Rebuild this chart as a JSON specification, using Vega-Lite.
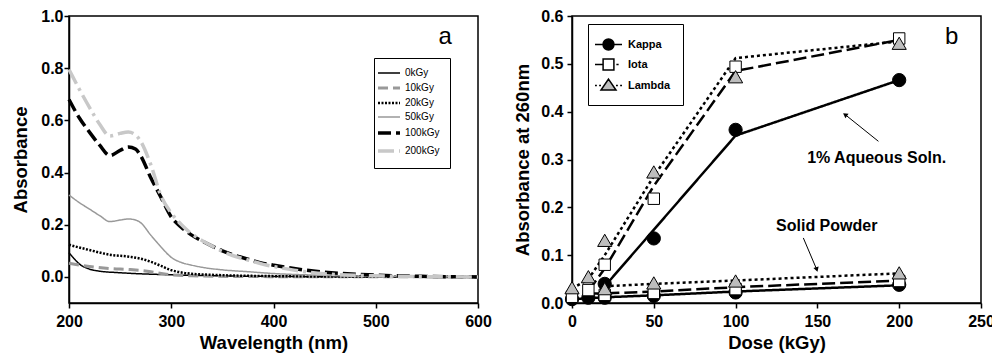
{
  "$schema": "https://vega.github.io/schema/vega-lite/v6.json",
  "background": "white",
  "padding": {"left": 11, "top": 7, "right": 0, "bottom": 0},
  "spacing": 20,
  "resolve": {
    "scale": {"color": "independent", "strokeDash": "independent"},
    "legend": {"color": "independent", "strokeDash": "independent"}
  },
  "config": {
    "font": "Liberation Sans",
    "view": {"stroke": "black", "strokeWidth": 1.5},
    "axis": {
      "grid": false, "labelFlush": false,
      "labelFont": "Liberation Sans", "labelFontWeight": "bold", "labelFontSize": 16, "labelColor": "black",
      "titleFont": "Liberation Sans", "titleFontWeight": "bold", "titleFontSize": 18.5, "titleColor": "black",
      "domainColor": "black", "domainWidth": 1.5, "tickColor": "black", "tickWidth": 1.5, "tickSize": 5
    },
    "axisX": {"labelPadding": 5, "titlePadding": 4},
    "axisY": {"labelPadding": 1, "titlePadding": 10}
  },
  "datasets": {
    "spectra": [
      {"dose": "0kGy", "wl": 200, "A": 0.093}, {"dose": "0kGy", "wl": 205, "A": 0.07}, {"dose": "0kGy", "wl": 210, "A": 0.05}, {"dose": "0kGy", "wl": 220, "A": 0.03}, {"dose": "0kGy", "wl": 230, "A": 0.022}, {"dose": "0kGy", "wl": 250, "A": 0.016}, {"dose": "0kGy", "wl": 300, "A": 0.008}, {"dose": "0kGy", "wl": 350, "A": 0.004}, {"dose": "0kGy", "wl": 400, "A": 0.002}, {"dose": "0kGy", "wl": 500, "A": 0.0}, {"dose": "0kGy", "wl": 600, "A": 0.0},
      {"dose": "10kGy", "wl": 200, "A": 0.052}, {"dose": "10kGy", "wl": 220, "A": 0.04}, {"dose": "10kGy", "wl": 240, "A": 0.032}, {"dose": "10kGy", "wl": 260, "A": 0.028}, {"dose": "10kGy", "wl": 280, "A": 0.02}, {"dose": "10kGy", "wl": 295, "A": 0.01}, {"dose": "10kGy", "wl": 320, "A": 0.004}, {"dose": "10kGy", "wl": 400, "A": 0.001}, {"dose": "10kGy", "wl": 600, "A": 0.0},
      {"dose": "20kGy", "wl": 200, "A": 0.123}, {"dose": "20kGy", "wl": 220, "A": 0.103}, {"dose": "20kGy", "wl": 240, "A": 0.085}, {"dose": "20kGy", "wl": 260, "A": 0.077}, {"dose": "20kGy", "wl": 270, "A": 0.07}, {"dose": "20kGy", "wl": 280, "A": 0.058}, {"dose": "20kGy", "wl": 290, "A": 0.042}, {"dose": "20kGy", "wl": 300, "A": 0.026}, {"dose": "20kGy", "wl": 310, "A": 0.017}, {"dose": "20kGy", "wl": 320, "A": 0.012}, {"dose": "20kGy", "wl": 340, "A": 0.008}, {"dose": "20kGy", "wl": 400, "A": 0.003}, {"dose": "20kGy", "wl": 500, "A": 0.001}, {"dose": "20kGy", "wl": 600, "A": 0.0},
      {"dose": "50kGy", "wl": 200, "A": 0.314}, {"dose": "50kGy", "wl": 210, "A": 0.285}, {"dose": "50kGy", "wl": 220, "A": 0.26}, {"dose": "50kGy", "wl": 230, "A": 0.235}, {"dose": "50kGy", "wl": 240, "A": 0.212}, {"dose": "50kGy", "wl": 250, "A": 0.218}, {"dose": "50kGy", "wl": 258, "A": 0.222}, {"dose": "50kGy", "wl": 265, "A": 0.218}, {"dose": "50kGy", "wl": 270, "A": 0.208}, {"dose": "50kGy", "wl": 280, "A": 0.16}, {"dose": "50kGy", "wl": 290, "A": 0.115}, {"dose": "50kGy", "wl": 300, "A": 0.075}, {"dose": "50kGy", "wl": 310, "A": 0.055}, {"dose": "50kGy", "wl": 320, "A": 0.045}, {"dose": "50kGy", "wl": 330, "A": 0.037}, {"dose": "50kGy", "wl": 350, "A": 0.027}, {"dose": "50kGy", "wl": 375, "A": 0.02}, {"dose": "50kGy", "wl": 400, "A": 0.013}, {"dose": "50kGy", "wl": 450, "A": 0.006}, {"dose": "50kGy", "wl": 500, "A": 0.002}, {"dose": "50kGy", "wl": 600, "A": 0.0},
      {"dose": "100kGy", "wl": 200, "A": 0.68}, {"dose": "100kGy", "wl": 210, "A": 0.61}, {"dose": "100kGy", "wl": 220, "A": 0.555}, {"dose": "100kGy", "wl": 230, "A": 0.505}, {"dose": "100kGy", "wl": 240, "A": 0.465}, {"dose": "100kGy", "wl": 250, "A": 0.485}, {"dose": "100kGy", "wl": 258, "A": 0.498}, {"dose": "100kGy", "wl": 265, "A": 0.49}, {"dose": "100kGy", "wl": 270, "A": 0.465}, {"dose": "100kGy", "wl": 280, "A": 0.38}, {"dose": "100kGy", "wl": 290, "A": 0.305}, {"dose": "100kGy", "wl": 300, "A": 0.23}, {"dose": "100kGy", "wl": 310, "A": 0.19}, {"dose": "100kGy", "wl": 320, "A": 0.16}, {"dose": "100kGy", "wl": 330, "A": 0.138}, {"dose": "100kGy", "wl": 340, "A": 0.118}, {"dose": "100kGy", "wl": 350, "A": 0.1}, {"dose": "100kGy", "wl": 360, "A": 0.085}, {"dose": "100kGy", "wl": 375, "A": 0.068}, {"dose": "100kGy", "wl": 390, "A": 0.052}, {"dose": "100kGy", "wl": 400, "A": 0.045}, {"dose": "100kGy", "wl": 420, "A": 0.032}, {"dose": "100kGy", "wl": 450, "A": 0.018}, {"dose": "100kGy", "wl": 500, "A": 0.007}, {"dose": "100kGy", "wl": 550, "A": 0.002}, {"dose": "100kGy", "wl": 600, "A": 0.0},
      {"dose": "200kGy", "wl": 200, "A": 0.795}, {"dose": "200kGy", "wl": 210, "A": 0.72}, {"dose": "200kGy", "wl": 220, "A": 0.65}, {"dose": "200kGy", "wl": 230, "A": 0.585}, {"dose": "200kGy", "wl": 240, "A": 0.54}, {"dose": "200kGy", "wl": 250, "A": 0.55}, {"dose": "200kGy", "wl": 258, "A": 0.555}, {"dose": "200kGy", "wl": 265, "A": 0.545}, {"dose": "200kGy", "wl": 270, "A": 0.52}, {"dose": "200kGy", "wl": 280, "A": 0.43}, {"dose": "200kGy", "wl": 290, "A": 0.31}, {"dose": "200kGy", "wl": 300, "A": 0.245}, {"dose": "200kGy", "wl": 310, "A": 0.2}, {"dose": "200kGy", "wl": 320, "A": 0.165}, {"dose": "200kGy", "wl": 330, "A": 0.14}, {"dose": "200kGy", "wl": 340, "A": 0.118}, {"dose": "200kGy", "wl": 350, "A": 0.098}, {"dose": "200kGy", "wl": 360, "A": 0.082}, {"dose": "200kGy", "wl": 375, "A": 0.065}, {"dose": "200kGy", "wl": 390, "A": 0.048}, {"dose": "200kGy", "wl": 400, "A": 0.04}, {"dose": "200kGy", "wl": 420, "A": 0.026}, {"dose": "200kGy", "wl": 450, "A": 0.012}, {"dose": "200kGy", "wl": 500, "A": 0.004}, {"dose": "200kGy", "wl": 550, "A": 0.001}, {"dose": "200kGy", "wl": 600, "A": 0.0}
    ],
    "leftLabels": [{"wl": 568, "A": 0.92, "text": "a"}],
    "lines": [
      {"state": "aqueous", "series": "Kappa", "dose": 20, "A": 0.035}, {"state": "aqueous", "series": "Kappa", "dose": 100, "A": 0.35}, {"state": "aqueous", "series": "Kappa", "dose": 200, "A": 0.466},
      {"state": "aqueous", "series": "Iota", "dose": 10, "A": 0.025}, {"state": "aqueous", "series": "Iota", "dose": 20, "A": 0.072}, {"state": "aqueous", "series": "Iota", "dose": 50, "A": 0.245}, {"state": "aqueous", "series": "Iota", "dose": 100, "A": 0.485}, {"state": "aqueous", "series": "Iota", "dose": 200, "A": 0.55},
      {"state": "aqueous", "series": "Lambda", "dose": 0, "A": 0.03}, {"state": "aqueous", "series": "Lambda", "dose": 10, "A": 0.05}, {"state": "aqueous", "series": "Lambda", "dose": 20, "A": 0.1}, {"state": "aqueous", "series": "Lambda", "dose": 50, "A": 0.265}, {"state": "aqueous", "series": "Lambda", "dose": 100, "A": 0.512}, {"state": "aqueous", "series": "Lambda", "dose": 200, "A": 0.547},
      {"state": "powder", "series": "Kappa", "dose": 0, "A": 0.008}, {"state": "powder", "series": "Kappa", "dose": 10, "A": 0.01}, {"state": "powder", "series": "Kappa", "dose": 20, "A": 0.012}, {"state": "powder", "series": "Kappa", "dose": 50, "A": 0.016}, {"state": "powder", "series": "Kappa", "dose": 100, "A": 0.024}, {"state": "powder", "series": "Kappa", "dose": 200, "A": 0.037},
      {"state": "powder", "series": "Iota", "dose": 10, "A": 0.02}, {"state": "powder", "series": "Iota", "dose": 20, "A": 0.02}, {"state": "powder", "series": "Iota", "dose": 50, "A": 0.024}, {"state": "powder", "series": "Iota", "dose": 100, "A": 0.033}, {"state": "powder", "series": "Iota", "dose": 200, "A": 0.047},
      {"state": "powder", "series": "Lambda", "dose": 20, "A": 0.035}, {"state": "powder", "series": "Lambda", "dose": 50, "A": 0.04}, {"state": "powder", "series": "Lambda", "dose": 100, "A": 0.047}, {"state": "powder", "series": "Lambda", "dose": 200, "A": 0.062}
    ],
    "pts": [
      {"state": "aqueous", "series": "Kappa", "dose": 0, "A": 0.008}, {"state": "aqueous", "series": "Kappa", "dose": 10, "A": 0.011}, {"state": "aqueous", "series": "Kappa", "dose": 20, "A": 0.04}, {"state": "aqueous", "series": "Kappa", "dose": 50, "A": 0.135}, {"state": "aqueous", "series": "Kappa", "dose": 100, "A": 0.362}, {"state": "aqueous", "series": "Kappa", "dose": 200, "A": 0.466},
      {"state": "powder", "series": "Kappa", "dose": 20, "A": 0.011}, {"state": "powder", "series": "Kappa", "dose": 50, "A": 0.015}, {"state": "powder", "series": "Kappa", "dose": 100, "A": 0.022}, {"state": "powder", "series": "Kappa", "dose": 200, "A": 0.038},
      {"state": "aqueous", "series": "Iota", "dose": 0, "A": 0.013}, {"state": "aqueous", "series": "Iota", "dose": 10, "A": 0.027}, {"state": "aqueous", "series": "Iota", "dose": 20, "A": 0.08}, {"state": "aqueous", "series": "Iota", "dose": 50, "A": 0.218}, {"state": "aqueous", "series": "Iota", "dose": 100, "A": 0.494}, {"state": "aqueous", "series": "Iota", "dose": 200, "A": 0.553},
      {"state": "powder", "series": "Iota", "dose": 20, "A": 0.017}, {"state": "powder", "series": "Iota", "dose": 50, "A": 0.021}, {"state": "powder", "series": "Iota", "dose": 100, "A": 0.029}, {"state": "powder", "series": "Iota", "dose": 200, "A": 0.046},
      {"state": "aqueous", "series": "Lambda", "dose": 0, "A": 0.032}, {"state": "aqueous", "series": "Lambda", "dose": 10, "A": 0.055}, {"state": "aqueous", "series": "Lambda", "dose": 20, "A": 0.131}, {"state": "aqueous", "series": "Lambda", "dose": 50, "A": 0.274}, {"state": "aqueous", "series": "Lambda", "dose": 100, "A": 0.473}, {"state": "aqueous", "series": "Lambda", "dose": 200, "A": 0.543},
      {"state": "powder", "series": "Lambda", "dose": 20, "A": 0.03}, {"state": "powder", "series": "Lambda", "dose": 50, "A": 0.042}, {"state": "powder", "series": "Lambda", "dose": 100, "A": 0.046}, {"state": "powder", "series": "Lambda", "dose": 200, "A": 0.063}
    ],
    "arrows": [
      {"name": "aq", "dose": 187.3, "A": 0.338, "dose2": 166.9, "A2": 0.394},
      {"name": "powder", "dose": 141.4, "A": 0.136, "dose2": 149.6, "A2": 0.07}
    ],
    "notes": [
      {"kind": "note", "dose": 186.2, "A": 0.303, "text": "1% Aqueous Soln."},
      {"kind": "note", "dose": 155.7, "A": 0.16, "text": "Solid Powder"},
      {"kind": "panel", "dose": 232, "A": 0.556, "text": "b"}
    ]
  },
  "hconcat": [
    {
      "width": 409,
      "height": 287,
      "layer": [
        {
          "data": {"name": "spectra"},
          "mark": {"type": "line", "interpolate": "monotone"},
          "encoding": {
            "x": {"field": "wl", "type": "quantitative", "scale": {"domain": [200, 600], "nice": false, "zero": false}, "axis": {"values": [200, 300, 400, 500, 600], "title": "Wavelength (nm)"}},
            "y": {"field": "A", "type": "quantitative", "scale": {"domain": [-0.1, 1.0], "nice": false}, "axis": {"values": [0, 0.2, 0.4, 0.6, 0.8, 1.0], "format": ".1f", "title": "Absorbance"}},
            "color": {
              "field": "dose", "type": "nominal",
              "scale": {"domain": ["0kGy", "10kGy", "20kGy", "50kGy", "100kGy", "200kGy"], "range": ["black", "#999999", "black", "#999999", "black", "#c8c8c8"]},
              "legend": {"orient": "none", "legendX": 305, "legendY": 42, "title": null, "symbolType": "stroke", "symbolSize": 484, "labelFontSize": 10, "labelFontWeight": "normal", "labelFont": "Liberation Sans", "labelColor": "black", "padding": 10, "rowPadding": 4, "labelOffset": 11, "strokeColor": "black", "fillColor": "white",
                "encode": {"symbols": {"update": {"strokeWidth": {"signal": "datum.value === '100kGy' || datum.value === '200kGy' ? 3.5 : datum.value === '10kGy' ? 3 : datum.value === '20kGy' ? 2.5 : 1.5"}}}}}
            },
            "strokeDash": {
              "field": "dose", "type": "nominal",
              "scale": {"domain": ["0kGy", "10kGy", "20kGy", "50kGy", "100kGy", "200kGy"], "range": [[1, 0], [10, 5], [2, 1.5], [1, 0], [13, 5], [16, 5, 3, 5]]},
              "legend": {"orient": "none", "legendX": 305, "legendY": 42, "title": null, "symbolType": "stroke", "symbolSize": 484, "labelFontSize": 10, "labelFontWeight": "normal", "labelFont": "Liberation Sans", "labelColor": "black", "padding": 10, "rowPadding": 4, "labelOffset": 11, "strokeColor": "black", "fillColor": "white",
                "encode": {"symbols": {"update": {"strokeWidth": {"signal": "datum.value === '100kGy' || datum.value === '200kGy' ? 3.5 : datum.value === '10kGy' ? 3 : datum.value === '20kGy' ? 2.5 : 1.5"}}}}}
            },
            "strokeWidth": {
              "condition": [
                {"test": "datum.dose === '100kGy' || datum.dose === '200kGy'", "value": 3.5},
                {"test": "datum.dose === '10kGy'", "value": 3},
                {"test": "datum.dose === '20kGy'", "value": 2.5}
              ],
              "value": 1.5
            }
          }
        },
        {
          "data": {"name": "leftLabels"},
          "mark": {"type": "text", "font": "Liberation Sans", "fontSize": 24, "align": "center", "baseline": "middle", "color": "black"},
          "encoding": {
            "x": {"field": "wl", "type": "quantitative"},
            "y": {"field": "A", "type": "quantitative"},
            "text": {"field": "text"}
          }
        }
      ]
    },
    {
      "width": 409,
      "height": 287,
      "encoding": {
        "x": {"field": "dose", "type": "quantitative", "scale": {"domain": [0, 250], "nice": false}, "axis": {"values": [0, 50, 100, 150, 200, 250], "title": "Dose (kGy)"}},
        "y": {"field": "A", "type": "quantitative", "scale": {"domain": [0, 0.6], "nice": false}, "axis": {"values": [0, 0.1, 0.2, 0.3, 0.4, 0.5, 0.6], "format": ".1f", "title": "Absorbance at 260nm", "labelPadding": 4, "titlePadding": 8}}
      },
      "layer": [
        {
          "data": {"name": "lines"},
          "mark": {"type": "line", "color": "black", "strokeWidth": 2.5},
          "encoding": {
            "detail": {"field": "state", "type": "nominal"},
            "strokeDash": {"field": "series", "type": "nominal", "scale": {"domain": ["Kappa", "Iota", "Lambda"], "range": [[1, 0], [13, 5], [3, 3]]}, "legend": null}
          }
        },
        {
          "data": {"name": "arrows"},
          "mark": {"type": "rule", "color": "black", "strokeWidth": 1},
          "encoding": {
            "x2": {"field": "dose2"},
            "y2": {"field": "A2"}
          }
        },
        {
          "data": {"name": "arrows"},
          "transform": [{"filter": "datum.name === 'aq'"}],
          "mark": {"type": "point", "shape": "triangle-up", "filled": true, "color": "black", "size": 30, "angle": 306, "opacity": 1},
          "encoding": {
            "x": {"field": "dose2", "type": "quantitative"},
            "y": {"field": "A2", "type": "quantitative"}
          }
        },
        {
          "data": {"name": "arrows"},
          "transform": [{"filter": "datum.name === 'powder'"}],
          "mark": {"type": "point", "shape": "triangle-up", "filled": true, "color": "black", "size": 30, "angle": 162, "opacity": 1},
          "encoding": {
            "x": {"field": "dose2", "type": "quantitative"},
            "y": {"field": "A2", "type": "quantitative"}
          }
        },
        {
          "data": {"name": "pts"},
          "transform": [{"filter": "datum.dose < 0"}],
          "mark": {"type": "point", "filled": true, "strokeWidth": 1.5, "opacity": 1},
          "encoding": {
            "shape": {
              "field": "series", "type": "nominal",
              "scale": {"domain": ["Kappa", "Iota", "Lambda"], "range": [
                "M-1.8,0H1.8M0.73,0A0.73,0.73 0 1,1 -0.73,0A0.73,0.73 0 1,1 0.73,0Z",
                "M-1.8,0H-0.72M1.05,0H1.35M-0.72,-0.72H0.72V0.72H-0.72Z",
                "M-1.8,0H-1.55M-1.25,0H-1.0M1.0,0H1.25M1.55,0H1.8M0,-0.85L1.0,0.6L-1.0,0.6Z"
              ]},
              "legend": {"orient": "none", "legendX": 519, "legendY": 8, "title": null, "symbolSize": 225, "symbolStrokeWidth": 1.5, "labelFontSize": 11, "labelFontWeight": "bold", "labelFont": "Liberation Sans", "labelColor": "black", "padding": 12, "rowPadding": 3, "labelOffset": 11, "strokeColor": "black", "fillColor": "white"}
            },
            "fill": {
              "field": "series", "type": "nominal",
              "scale": {"domain": ["Kappa", "Iota", "Lambda"], "range": ["black", "white", "#bdbdbd"]},
              "legend": {"orient": "none", "legendX": 519, "legendY": 8, "title": null, "symbolSize": 225, "symbolStrokeWidth": 1.5, "labelFontSize": 11, "labelFontWeight": "bold", "labelFont": "Liberation Sans", "labelColor": "black", "padding": 12, "rowPadding": 3, "labelOffset": 11, "strokeColor": "black", "fillColor": "white"}
            },
            "stroke": {
              "field": "series", "type": "nominal",
              "scale": {"domain": ["Kappa", "Iota", "Lambda"], "range": ["black", "black", "black"]},
              "legend": {"orient": "none", "legendX": 519, "legendY": 8, "title": null, "symbolSize": 225, "symbolStrokeWidth": 1.5, "labelFontSize": 11, "labelFontWeight": "bold", "labelFont": "Liberation Sans", "labelColor": "black", "padding": 12, "rowPadding": 3, "labelOffset": 11, "strokeColor": "black", "fillColor": "white"}
            }
          }
        },
        {
          "data": {"name": "pts"},
          "transform": [{"filter": "datum.series === 'Kappa'"}],
          "mark": {"type": "point", "shape": "circle", "filled": true, "fill": "black", "stroke": "black", "strokeWidth": 1, "size": 175, "opacity": 1}
        },
        {
          "data": {"name": "pts"},
          "transform": [{"filter": "datum.series === 'Iota'"}],
          "mark": {"type": "point", "shape": "square", "filled": true, "fill": "white", "stroke": "black", "strokeWidth": 1, "size": 130, "opacity": 1}
        },
        {
          "data": {"name": "pts"},
          "transform": [{"filter": "datum.series === 'Lambda'"}],
          "mark": {"type": "point", "shape": "triangle-up", "filled": true, "fill": "#bdbdbd", "stroke": "black", "strokeWidth": 1, "size": 200, "opacity": 1}
        },
        {
          "data": {"name": "notes"},
          "transform": [{"filter": "datum.kind === 'note'"}],
          "mark": {"type": "text", "font": "Liberation Sans", "fontWeight": "bold", "fontSize": 16, "align": "center", "baseline": "middle", "color": "black"},
          "encoding": {"text": {"field": "text"}}
        },
        {
          "data": {"name": "notes"},
          "transform": [{"filter": "datum.kind === 'panel'"}],
          "mark": {"type": "text", "font": "Liberation Sans", "fontSize": 24, "align": "center", "baseline": "middle", "color": "black"},
          "encoding": {"text": {"field": "text"}}
        }
      ]
    }
  ]
}
